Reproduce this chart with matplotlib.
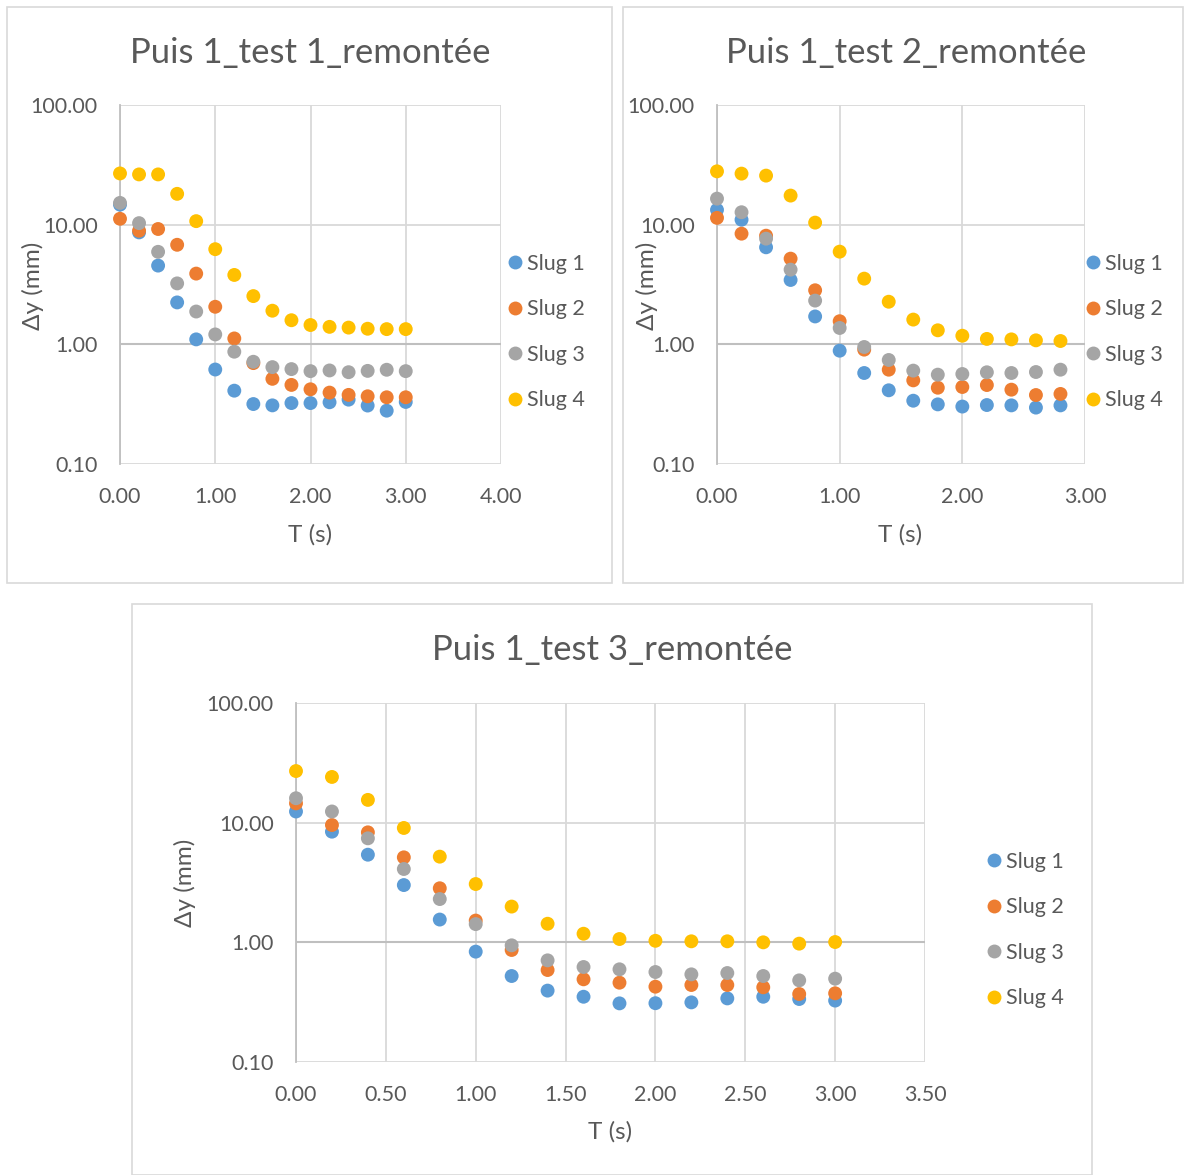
import matplotlib
matplotlib.use("Agg")
import matplotlib.pyplot as plt
from matplotlib.patches import Rectangle
from matplotlib.lines import Line2D

plt.rcParams['font.family'] = ['Lato', 'DejaVu Sans']

# ---------------- data ----------------
series_names = ["Slug 1", "Slug 2", "Slug 3", "Slug 4"]
colors = ["#5B9BD5", "#ED7D31", "#A5A5A5", "#FFC000"]

t1 = [0.0, 0.2, 0.4, 0.6, 0.8, 1.0, 1.2, 1.4, 1.6, 1.8, 2.0, 2.2, 2.4, 2.6, 2.8, 3.0]
test1_slug1 = [14.7, 8.62, 4.55, 2.24, 1.10, 0.616, 0.41, 0.317, 0.309, 0.323, 0.323, 0.328, 0.345, 0.308, 0.279, 0.33]
test1_slug2 = [11.2, 8.9, 9.2, 6.79, 3.90, 2.06, 1.12, 0.697, 0.515, 0.458, 0.421, 0.395, 0.378, 0.368, 0.361, 0.361]
test1_slug3 = [15.2, 10.3, 5.93, 3.23, 1.88, 1.21, 0.868, 0.715, 0.645, 0.621, 0.597, 0.605, 0.585, 0.60, 0.613, 0.597]
test1_slug4 = [26.8, 26.3, 26.3, 18.1, 10.7, 6.24, 3.80, 2.53, 1.91, 1.59, 1.45, 1.40, 1.38, 1.35, 1.34, 1.34]

t2 = [0.0, 0.2, 0.4, 0.6, 0.8, 1.0, 1.2, 1.4, 1.6, 1.8, 2.0, 2.2, 2.4, 2.6, 2.8]
test2_slug1 = [13.3, 11.0, 6.47, 3.45, 1.71, 0.885, 0.576, 0.413, 0.338, 0.315, 0.302, 0.311, 0.309, 0.296, 0.309]
test2_slug2 = [11.4, 8.41, 8.09, 5.20, 2.83, 1.56, 0.903, 0.614, 0.50, 0.434, 0.44, 0.457, 0.418, 0.377, 0.385]
test2_slug3 = [16.5, 12.7, 7.64, 4.21, 2.32, 1.37, 0.95, 0.74, 0.603, 0.558, 0.565, 0.584, 0.576, 0.587, 0.614]
test2_slug4 = [27.9, 26.7, 25.7, 17.5, 10.4, 5.95, 3.54, 2.27, 1.61, 1.31, 1.18, 1.11, 1.10, 1.08, 1.066]

t3 = [0.0, 0.2, 0.4, 0.6, 0.8, 1.0, 1.2, 1.4, 1.6, 1.8, 2.0, 2.2, 2.4, 2.6, 2.8, 3.0]
test3_slug1 = [12.4, 8.41, 5.40, 3.01, 1.55, 0.836, 0.523, 0.395, 0.351, 0.309, 0.31, 0.315, 0.34, 0.351, 0.336, 0.326]
test3_slug2 = [14.5, 9.56, 8.30, 5.13, 2.83, 1.52, 0.863, 0.587, 0.491, 0.46, 0.426, 0.44, 0.44, 0.421, 0.37, 0.375]
test3_slug3 = [16.0, 12.4, 7.40, 4.10, 2.30, 1.42, 0.944, 0.707, 0.622, 0.595, 0.565, 0.54, 0.554, 0.523, 0.481, 0.497]
test3_slug4 = [27.0, 24.1, 15.5, 9.03, 5.20, 3.07, 1.99, 1.43, 1.18, 1.066, 1.03, 1.02, 1.02, 1.00, 0.975, 1.006]

titles = ["Puis 1_test 1_remontée", "Puis 1_test 2_remontée", "Puis 1_test 3_remontée"]
xlabel = "T (s)"
ylabel = "Δy (mm)"
yticks = [0.1, 1, 10, 100]
ytick_labels = ["0.10", "1.00", "10.00", "100.00"]
xticks1 = [0, 1, 2, 3, 4]
xticks2 = [0, 1, 2, 3]
xticks3 = [0, 0.5, 1, 1.5, 2, 2.5, 3, 3.5]

# ---------------- layout ----------------
W, H = 1184, 1175
fig = plt.figure(figsize=(W / 100, H / 100), dpi=100)
fig.patch.set_facecolor("white")

TXT = "#595959"
GRID = "#d9d9d9"
AXIS = "#bfbfbf"

def px_rect(l, t, r, b):
    return [l / W, 1 - b / H, (r - l) / W, (b - t) / H]

# panel borders
for (l, t, r, b) in [(7, 7, 612, 583), (623, 7, 1183, 583), (132, 604, 1092, 1175)]:
    fig.patches.append(Rectangle((l / W, 1 - b / H), (r - l) / W, (b - t) / H,
                                 transform=fig.transFigure, fill=False,
                                 edgecolor="#d9d9d9", linewidth=1.2, zorder=0))

panels = [
    dict(rect=(120, 105, 501, 464), x=t1, ys=[test1_slug1, test1_slug2, test1_slug3, test1_slug4],
         xticks=xticks1, title_xy=(310, 53), ylab_xy=(33, 286), xlab_xy=(310, 535),
         leg_xy=(509, 264)),
    dict(rect=(717, 105, 1085, 464), x=t2, ys=[test2_slug1, test2_slug2, test2_slug3, test2_slug4],
         xticks=xticks2, title_xy=(906, 53), ylab_xy=(647, 286), xlab_xy=(900, 535),
         leg_xy=(1087, 264)),
    dict(rect=(296, 703, 925, 1062), x=t3, ys=[test3_slug1, test3_slug2, test3_slug3, test3_slug4],
         xticks=xticks3, title_xy=(612, 650), ylab_xy=(185, 883), xlab_xy=(610, 1132),
         leg_xy=(988, 862)),
]

for i, p in enumerate(panels):
    ax = fig.add_axes(px_rect(*p["rect"]))
    ax.set_yscale("log")
    ax.set_ylim(0.1, 100)
    ax.set_xlim(p["xticks"][0], p["xticks"][-1])
    ax.set_yticks(yticks)
    ax.set_yticklabels(ytick_labels)
    ax.minorticks_off()
    ax.set_xticks(p["xticks"])
    ax.set_xticklabels([f"{v:.2f}" for v in p["xticks"]])
    ax.tick_params(axis="both", length=0, labelsize=15.5, colors=TXT)
    ax.tick_params(axis="y", pad=16)
    ax.tick_params(axis="x", pad=16.5)
    ax.grid(True, color=GRID, linewidth=1.3, zorder=0)
    ax.set_axisbelow(True)
    for s in ["top", "right", "bottom"]:
        ax.spines[s].set_visible(False)
    ax.spines["left"].set_color(AXIS)
    ax.spines["left"].set_linewidth(1.3)
    ax.axhline(1, color=AXIS, linewidth=1.5, zorder=1)

    for k, (name, c, y) in enumerate(zip(series_names, colors, p["ys"])):
        ax.scatter(p["x"], y, s=100, color=c, edgecolors="none", zorder=3 + k, clip_on=False)

    fig.text(p["title_xy"][0] / W, 1 - p["title_xy"][1] / H, titles[i],
             ha="center", va="center", fontsize=25, color=TXT)
    fig.text(p["ylab_xy"][0] / W, 1 - p["ylab_xy"][1] / H, ylabel,
             ha="center", va="center", rotation=90, fontsize=17.5, color=TXT)
    fig.text(p["xlab_xy"][0] / W, 1 - p["xlab_xy"][1] / H, xlabel,
             ha="center", va="center", fontsize=17.5, color=TXT)

    handles = [Line2D([], [], linestyle="none", marker="o", markersize=10,
                      markerfacecolor=c, markeredgecolor="none") for c in colors]
    lx, ly = p["leg_xy"]
    ax.legend(handles, series_names, loc="upper left",
              bbox_to_anchor=(lx / W, 1 - (ly - 10) / H), bbox_transform=fig.transFigure,
              frameon=False, fontsize=15.5, labelcolor=TXT, handlelength=0.6,
              handletextpad=0.25, labelspacing=1.18, borderpad=0, borderaxespad=0)

fig.savefig("out.png", dpi=100, facecolor="white")
